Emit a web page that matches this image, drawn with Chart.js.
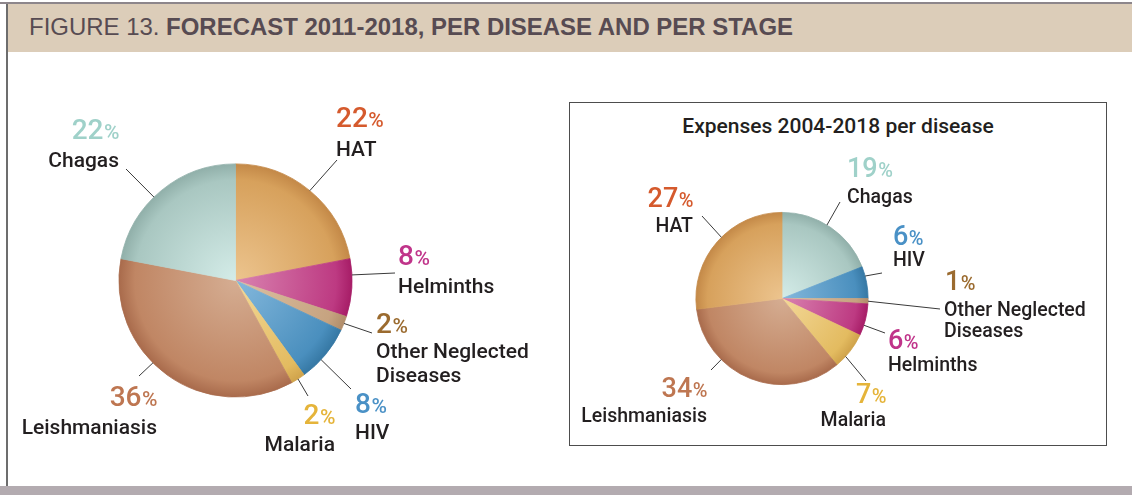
<!DOCTYPE html>
<html><head><meta charset="utf-8">
<script src="https://cdn.jsdelivr.net/npm/chart.js@4.4.1/dist/chart.umd.min.js"></script>
<style>
html,body{margin:0;padding:0;background:#fff;width:1132px;height:495px;overflow:hidden;position:relative;font-family:Roboto,sans-serif;}
#topline{position:absolute;left:0;top:2px;width:1132px;height:2px;background:#8d868b;}
#header{position:absolute;left:6px;top:4px;width:1126px;height:48px;background:#dccdb9;}
#title{position:absolute;left:29px;top:15px;font-family:"Liberation Sans",Arial,sans-serif;font-size:24px;line-height:1;color:#574b52;white-space:nowrap;transform-origin:0 0;}
#title b{font-weight:700;}
#leftline{position:absolute;left:6px;top:4px;width:1.5px;height:482px;background:#6d6d6d;}
#bottom{position:absolute;left:0;top:486px;width:1132px;height:9px;background:#b3abb0;}
#box{position:absolute;left:569px;top:102px;width:538px;height:344px;border:1.5px solid #4d4d4d;box-sizing:border-box;}
#boxtitle{position:absolute;left:569px;top:116px;width:538px;text-align:center;font-family:Roboto,sans-serif;font-weight:500;font-size:21px;line-height:21px;color:#231f20;white-space:nowrap;}
canvas{position:absolute;left:0;top:0;}
</style></head>
<body>
<div id="topline"></div>
<div id="header"></div>
<div id="title">FIGURE 13. <b>FORECAST 2011-2018, PER DISEASE AND PER STAGE</b></div>
<div id="leftline"></div>
<div id="bottom"></div>
<div id="box"></div>
<div id="boxtitle">Expenses 2004-2018 per disease</div>
<canvas id="c1" width="1132" height="495"></canvas>
<canvas id="c2" width="1132" height="495"></canvas>
<script>
// ---- data ----
const forecastLabels = ['HAT', 'Helminths', ['Other Neglected', 'Diseases'], 'HIV', 'Malaria', 'Leishmaniasis', 'Chagas'];
const forecastValues = [22, 8, 2, 8, 2, 36, 22];
const expensesLabels = ['Chagas', 'HIV', ['Other Neglected', 'Diseases'], 'Helminths', 'Malaria', 'Leishmaniasis', 'HAT'];
const expensesValues = [19, 6, 1, 6, 7, 34, 27];

// ---- styles ----
const sliceColors = {
  'HAT': ['#ecc48e', '#d7a15c', '#c38847'],
  'Helminths': ['#d983b0', '#bd3a82', '#a61c66'],
  'Other Neglected Diseases': ['#dcc1a3', '#c6a380', '#b08c69'],
  'HIV': ['#84b8dc', '#4a8fbe', '#3577a3'],
  'Malaria': ['#f3d898', '#e3bb60', '#cfa24a'],
  'Leishmaniasis': ['#d5ad92', '#c08664', '#a86a4b'],
  'Chagas': ['#d4ece8', '#a9c7c1', '#90afa9']
};
const pctColors = {
  'HAT': '#d55a2d', 'Helminths': '#c0348a', 'Other Neglected Diseases': '#9b6b2f',
  'HIV': '#4a91c6', 'Malaria': '#e5b43a', 'Leishmaniasis': '#be7651', 'Chagas': '#9fd1c9'
};
const keyOf = l => Array.isArray(l) ? l.join(' ') : l;

function sliceFill(c) {
  const stops = sliceColors[keyOf(c.chart.data.labels[c.dataIndex])];
  const ca = c.chart.chartArea;
  if (!ca) return stops[1];
  const cx = (ca.left + ca.right) / 2, cy = (ca.top + ca.bottom) / 2;
  const r = Math.min(ca.right - ca.left, ca.bottom - ca.top) / 2;
  const g = c.chart.ctx.createRadialGradient(cx, cy, 0, cx, cy, r);
  g.addColorStop(0, stops[0]);
  g.addColorStop(0.86, stops[1]);
  g.addColorStop(1, stops[2]);
  return g;
}

// label layout (relative to pie centre): f = position along slice arc, line = leader end, pct/name = text anchors
const forecastLayout = [
  {f: 0.50, line: [101.5, -120.5], align: 'left',  pct: [100.5, -153.5], name: [100.5, -124.5]},
  {f: 0.28, line: [159.5, -7.5],   align: 'left',  pct: [162.5, -15.5],  name: [162.5, 12.5]},
  {f: 0.50, line: [136.5, 52.5],   align: 'left',  pct: [140.5, 52.5],   name: [140.5, 77.5]},
  {f: 0.61, line: [115.5, 108.5],  align: 'left',  pct: [119.5, 132.5],  name: [119.5, 158.5]},
  {f: 0.50, line: [72.5, 115.5],   align: 'right', pct: [99.5, 143.5],   name: [99.5, 170.5]},
  {f: 0.57, line: [-96.5, 95.5],   align: 'right', pct: [-78.5, 125.5],  name: [-78.5, 153.5]},
  {f: 0.44, line: [-109.5, -111.5],align: 'right', pct: [-116.5, -141.5],name: [-116.5, -113.5]}
];
const expensesLayout = [
  {f: 0.46, line: [58, -96.5],  align: 'left',  pct: [65, -121.5], name: [65, -95.5]},
  {f: 0.30, line: [100, -25.5], align: 'left',  pct: [111, -53.5], name: [111, -32.5]},
  {f: 0.50, line: [158, 10.5],  align: 'left',  pct: [163, -8.5],  name: [162, 17.5]},
  {f: 0.67, line: [103, 34.5],  align: 'left',  pct: [106, 50.5],  name: [106, 72.5]},
  {f: 0.68, line: [84, 82.5],   align: 'right', pct: [104, 104.5], name: [104, 127.5]},
  {f: 0.69, line: [-71, 71.5],  align: 'right', pct: [-75, 98.5],  name: [-75, 123.5]},
  {f: 0.54, line: [-80, -82.5], align: 'right', pct: [-89, -91.5], name: [-89, -66.5]}
];

const leaderPlugin = {
  id: 'leaders',
  afterDatasetsDraw(chart, args, o) {
    const ctx = chart.ctx;
    const meta = chart.getDatasetMeta(0);
    const labels = chart.data.labels;
    const values = chart.data.datasets[0].data;
    meta.data.forEach((arc, i) => {
      const p = arc.getProps(['x', 'y', 'startAngle', 'endAngle', 'outerRadius'], true);
      const L = o.layout[i];
      const a = p.startAngle + L.f * (p.endAngle - p.startAngle);
      const sx = p.x + p.outerRadius * Math.cos(a), sy = p.y + p.outerRadius * Math.sin(a);
      ctx.save();
      ctx.strokeStyle = '#3a3a3a';
      ctx.lineWidth = 1;
      ctx.beginPath();
      ctx.moveTo(sx, sy);
      ctx.lineTo(p.x + L.line[0], p.y + L.line[1]);
      ctx.stroke();
      // percentage
      const key = keyOf(labels[i]);
      const num = String(values[i]);
      ctx.textBaseline = 'alphabetic';
      ctx.textAlign = 'left';
      ctx.font = `500 ${o.numSize}px Roboto`;
      const wn = ctx.measureText(num).width;
      ctx.font = `500 ${o.pctSize}px Roboto`;
      const wp = ctx.measureText('%').width;
      let x0 = p.x + L.pct[0];
      if (L.align === 'right') x0 -= wn + wp;
      const y0 = p.y + L.pct[1];
      ctx.fillStyle = pctColors[key];
      ctx.font = `500 ${o.numSize}px Roboto`;
      ctx.fillText(num, x0, y0);
      ctx.font = `500 ${o.pctSize}px Roboto`;
      ctx.fillText('%', x0 + wn + 0.5, y0);
      // name
      ctx.fillStyle = '#231f20';
      ctx.font = `500 ${o.nameSize}px Roboto`;
      ctx.textAlign = L.align;
      const lines = Array.isArray(labels[i]) ? labels[i] : [labels[i]];
      lines.forEach((t, k) => ctx.fillText(t, p.x + L.name[0], p.y + L.name[1] + k * o.lineH));
      ctx.restore();
    });
  }
};

function makePie(id, labels, values, layout, padding, sizes) {
  return new Chart(document.getElementById(id), {
    type: 'pie',
    data: {
      labels: labels,
      datasets: [{
        data: values,
        backgroundColor: sliceFill,
        borderColor: sliceFill,
        borderWidth: 0.8
      }]
    },
    options: {
      responsive: false,
      animation: false,
      devicePixelRatio: 1,
      layout: {padding: padding},
      events: [],
      plugins: {
        legend: {display: false},
        tooltip: {enabled: false},
        leaders: Object.assign({layout: layout}, sizes)
      }
    },
    plugins: [leaderPlugin]
  });
}

makePie('c1', forecastLabels, forecastValues, forecastLayout,
  {left: 118.5, top: 163.5, right: 779.5, bottom: 97.5},
  {numSize: 28, pctSize: 21, nameSize: 21, lineH: 24});
makePie('c2', expensesLabels, expensesValues, expensesLayout,
  {left: 695.5, top: 212, right: 263.5, bottom: 110},
  {numSize: 27, pctSize: 20, nameSize: 19.5, lineH: 21});

// fit header title width
const t = document.getElementById('title');
const w = t.getBoundingClientRect().width;
t.style.transform = 'scaleX(' + (764 / w) + ')';
</script>
</body></html>
